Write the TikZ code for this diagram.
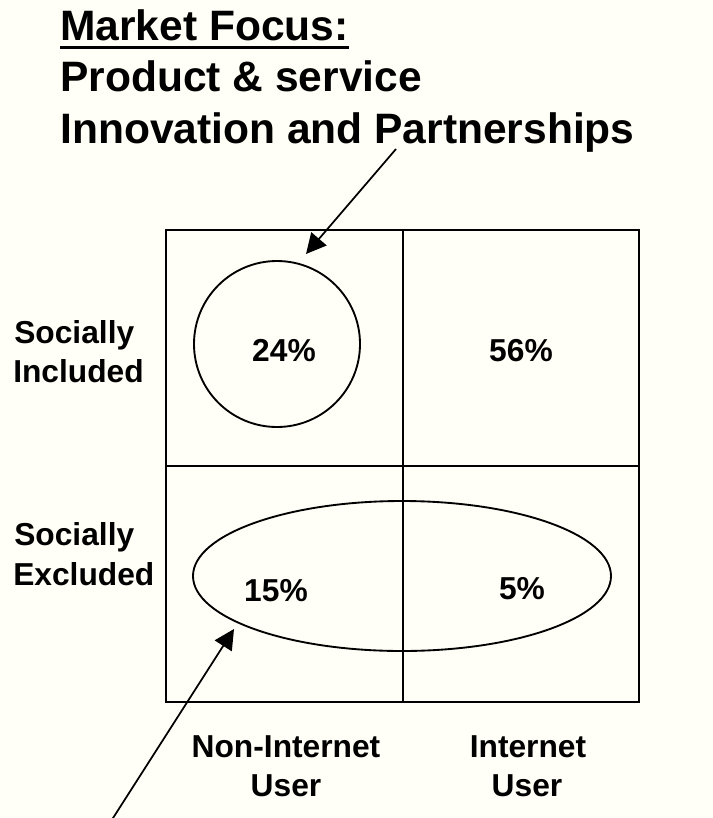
\documentclass[tikz,border=0pt]{standalone}
\usepackage{fontspec}
\setmainfont{Liberation Sans}
\usetikzlibrary{shapes.geometric,arrows.meta}
\definecolor{bgcream}{RGB}{255,255,247}
\tikzset{
  lbl/.style={font=\fontsize{23.8pt}{29.25pt}\selectfont\bfseries, inner sep=0pt},
  ttl/.style={font=\fontsize{31.9pt}{38.6pt}\selectfont\bfseries, inner sep=0pt},
  gridline/.style={line width=1.4pt},
  shapeline/.style={line width=1.4pt},
  pointer/.style={line width=1.3pt, -{Triangle[length=15pt,width=15pt]}},
}
\begin{document}
\begin{tikzpicture}[x=0.75pt,y=-0.75pt]
\fill[bgcream] (0,0) rectangle (713,818);
\useasboundingbox (0,0) rectangle (713,818);
% title
\node[ttl,anchor=base west] (title1) at (60,40) {\setbox0\hbox{Market Focus:}\rlap{\rule[-6.75pt]{\wd0}{2.25pt}}\box0};
\node[ttl,anchor=base west] (title2) at (60,91) {Product \& service};
\node[ttl,anchor=base west] (title3) at (60,143) {Innovation and Partnerships};
% grid
\draw[gridline] (166,230) rectangle (639,702);
\draw[gridline] (403,230) -- (403,702);
\draw[gridline] (166,466) -- (639,466);
% shapes
\node[circle, draw, shapeline, minimum size=124.5pt, inner sep=0pt] (circ) at (277,344) {};
\node[ellipse, draw, shapeline, minimum width=313.5pt, minimum height=112.5pt, inner sep=0pt] (ell) at (402,576) {};
% percentages
\node[lbl,anchor=base] (p24) at (284,361.5) {24\%};
\node[lbl,anchor=base] (p56) at (521,361.5) {56\%};
\node[lbl,anchor=base] (p15) at (276,601.5) {15\%};
\node[lbl,anchor=base] (p5) at (522,599) {5\%};
% row labels
\node[lbl,anchor=base west] (si1) at (14,343) {Socially};
\node[lbl,anchor=base west] (si2) at (13,382) {Included};
\node[lbl,anchor=base west] (se1) at (14,545) {Socially};
\node[lbl,anchor=base west] (se2) at (13,585) {Excluded};
% column labels
\node[lbl,anchor=base] (cn1) at (286,757) {Non-Internet};
\node[lbl,anchor=base] (cn2) at (286,796) {User};
\node[lbl,anchor=base] (ci1) at (528,757) {Internet};
\node[lbl,anchor=base] (ci2) at (527,796) {User};
% pointers
\coordinate (a1s) at (396,149);
\coordinate (a1e) at (306,254);
\draw[pointer] (a1s) -- (a1e);
\coordinate (a2s) at (112.4,819);
\coordinate (a2e) at (234,629);
\draw[pointer] (a2s) -- (a2e);
\end{tikzpicture}
\end{document}
